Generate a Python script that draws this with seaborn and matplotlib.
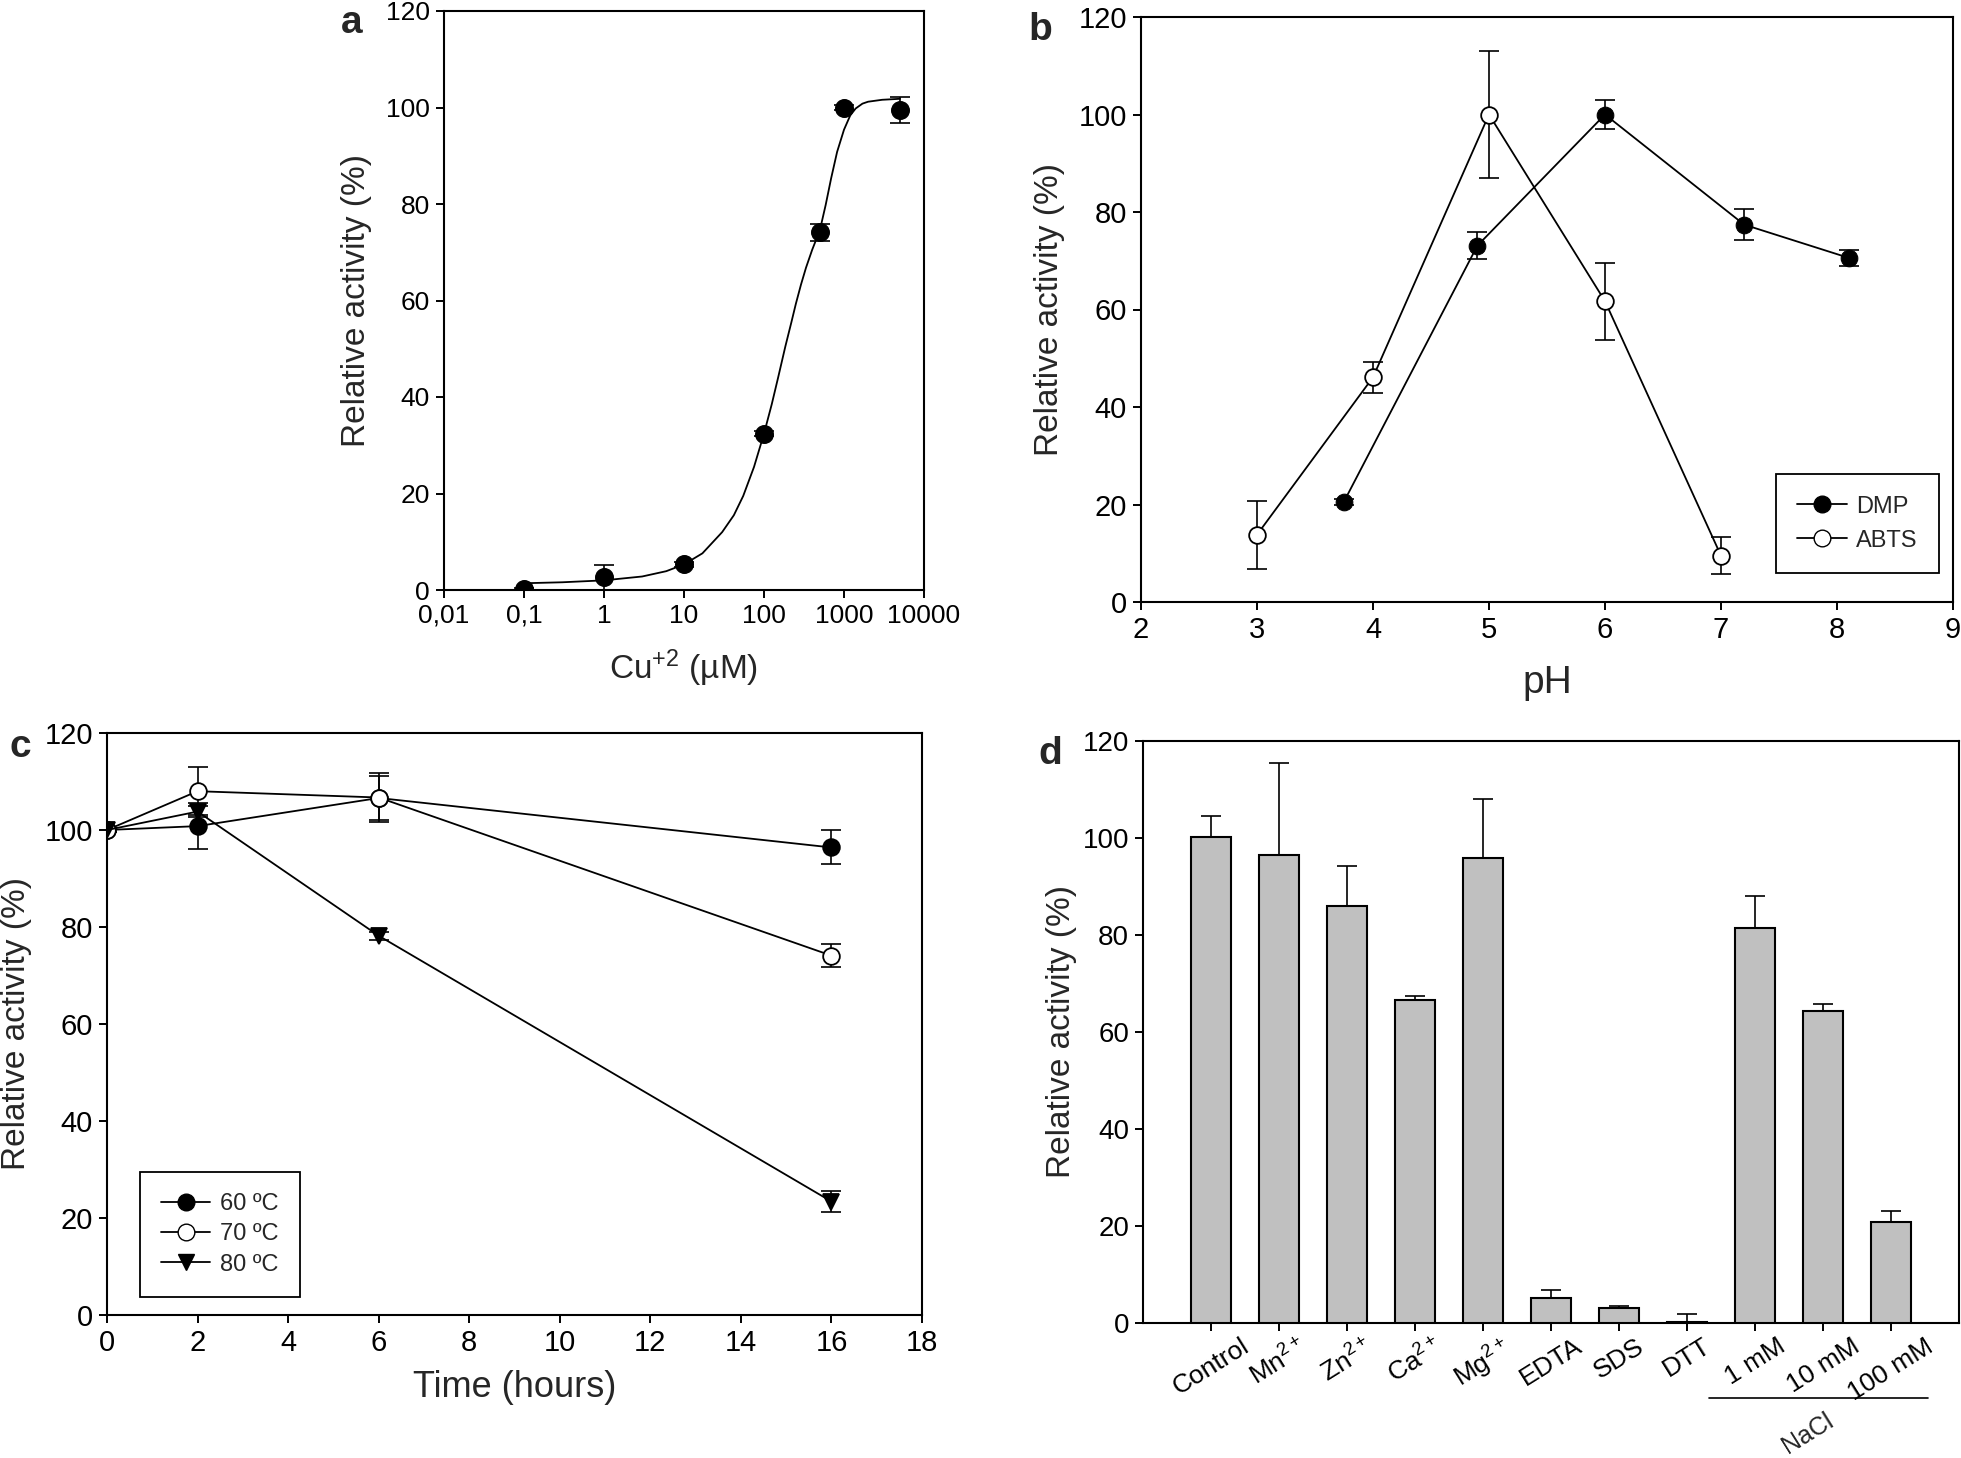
import numpy as np
import pandas as pd
import matplotlib
matplotlib.use("Agg")
import matplotlib.pyplot as plt
import seaborn as sns
from matplotlib.lines import Line2D
from matplotlib.ticker import NullLocator
from matplotlib import font_manager

# ---- a: Cu+2 dependence
cu_conc = [0.1, 1, 10, 100, 500, 1000, 5000]
cu_act = [0.2, 2.6, 5.3, 32.4, 74.1, 100.0, 99.4]
cu_err = [0.3, 2.5, 0.5, 0.5, 1.8, 0.5, 2.7]
# fitted curve
fit_x = [0.1, 0.3, 1, 3, 6, 10, 17, 30, 42, 55, 75, 100, 125, 150, 185, 220, 250, 290, 335,
         400, 500, 590, 690, 820, 1000, 1200, 1400, 1700, 2000, 3000, 5000]
fit_y = [1.4, 1.6, 2.0, 2.8, 3.9, 5.3, 7.6, 12.0, 15.5, 19.5, 25.5, 32.4, 38.5, 44.0, 50.5,
         55.5, 59.3, 63.3, 66.8, 70.5, 74.6, 79.8, 85.3, 90.8, 95.4, 98.4, 99.8, 100.8,
         101.2, 101.6, 101.8]
cu_ticks = [0.01, 0.1, 1, 10, 100, 1000, 10000]
cu_ticklabels = ["0,01", "0,1", "1", "10", "100", "1000", "10000"]

# ---- b: pH
dmp_ph = [3.75, 4.9, 6.0, 7.2, 8.1]
dmp_act = [20.6, 73.1, 100.0, 77.4, 70.6]
dmp_err = [0.6, 2.8, 3.0, 3.2, 1.6]
abts_ph = [3, 4, 5, 6, 7]
abts_act = [13.8, 46.1, 100.0, 61.7, 9.5]
abts_err = [7.0, 3.2, 13.0, 7.9, 3.8]

# ---- c: thermal stability
hours = [0, 2, 6, 16]
act_60 = [100.0, 100.8, 106.6, 96.4]
err_60 = [0.5, 4.7, 4.6, 3.5]
act_70 = [100.0, 108.0, 106.7, 74.1]
err_70 = [0.5, 4.9, 5.1, 2.4]
act_80 = [100.0, 103.8, 78.2, 23.4]
err_80 = [0.5, 1.1, 0.8, 2.2]

# ---- d: effectors
effectors = ["Control", "Mn$^{2+}$", "Zn$^{2+}$", "Ca$^{2+}$", "Mg$^{2+}$",
             "EDTA", "SDS", "DTT", "1 mM", "10 mM", "100 mM"]
eff_act = [100.2, 96.4, 86.0, 66.6, 95.8, 5.2, 3.1, 0.2, 81.5, 64.3, 20.8]
eff_err = [4.3, 19.0, 8.2, 0.8, 12.3, 1.6, 0.4, 1.6, 6.6, 1.5, 2.2]

sns.set_theme(style="ticks")
names = {f.name for f in font_manager.fontManager.ttflist}
narrow = "Liberation Sans Narrow" if "Liberation Sans Narrow" in names else "Liberation Sans"
plt.rcParams["font.family"] = ["Liberation Sans", "DejaVu Sans"]
plt.rcParams["mathtext.fontset"] = "custom"
plt.rcParams["mathtext.rm"] = "Liberation Sans"
plt.rcParams["mathtext.it"] = "Liberation Sans:italic"
plt.rcParams["axes.linewidth"] = 1.5
plt.rcParams["axes.edgecolor"] = "black"

W, H = 1961, 1458
fig = plt.figure(figsize=(W / 100, H / 100), dpi=100)


def px_axes(l, t, r, b):
    return fig.add_axes([l / W, 1 - b / H, (r - l) / W, (b - t) / H])


def style(ax, font, size=17):
    ax.tick_params(direction="out", length=6, width=1.4, labelsize=size,
                   top=False, right=False, colors="black", pad=4)
    for lab in ax.get_xticklabels() + ax.get_yticklabels():
        lab.set_family(font)
    for s in ax.spines.values():
        s.set_visible(True)
        s.set_color("black")
        s.set_linewidth(1.5)


ebar = dict(fmt="none", ecolor="black", elinewidth=1.2, capsize=7, capthick=1.2, zorder=2)
ylab = dict(fontsize=24, family="Liberation Sans")
legkw = dict(borderaxespad=0, fontsize=17, frameon=True, fancybox=False, edgecolor="black",
             framealpha=1, handlelength=2.1, borderpad=0.9, handletextpad=0.4)

# ---------------- a
ax = px_axes(444, 11, 924, 590)
ax.set_xscale("log")
ax.errorbar(cu_conc, cu_act, yerr=cu_err, **ebar)
sns.lineplot(x=fit_x, y=fit_y, color="black", linewidth=1.3, ax=ax, zorder=3)
sns.scatterplot(x=cu_conc, y=cu_act, s=160, color="black", edgecolor="black", ax=ax, zorder=4)
ax.set_xlim(0.01, 10000)
ax.set_ylim(0, 120)
ax.set_xticks(cu_ticks)
ax.set_xticklabels(cu_ticklabels)
ax.xaxis.set_minor_locator(NullLocator())
ax.set_yticks(range(0, 121, 20))
style(ax, "Liberation Sans", 19)
ax.set_ylabel("Relative activity (%)", **ylab)
ax.yaxis.set_label_coords(-0.15, 0.5)
ax.set_xlabel("Cu$^{+2}$ (µM)", fontsize=24)
ax.xaxis.set_label_coords(0.5, -0.1)

# ---------------- b
ax = px_axes(1141, 17, 1953, 602)
ax.errorbar(dmp_ph, dmp_act, yerr=dmp_err, **ebar)
ax.errorbar(abts_ph, abts_act, yerr=abts_err, **ebar)
sns.lineplot(x=dmp_ph, y=dmp_act, color="black", linewidth=1.3, marker="o", markersize=12,
             markerfacecolor="black", markeredgecolor="black", ax=ax, zorder=3)
sns.lineplot(x=abts_ph, y=abts_act, color="black", linewidth=1.3, marker="o", markersize=12,
             markerfacecolor="white", markeredgecolor="black", markeredgewidth=1.3, ax=ax, zorder=3)
ax.set_xlim(2, 9)
ax.set_ylim(0, 120)
ax.set_yticks(range(0, 121, 20))
style(ax, narrow, 21)
ax.set_ylabel("Relative activity (%)", **ylab)
ax.yaxis.set_label_coords(-0.094, 0.5)
ax.set_xlabel("pH", fontsize=28, family=narrow)
ax.xaxis.set_label_coords(0.5, -0.108)
handles = [Line2D([], [], color="black", lw=1.3, marker="o", markersize=12, markerfacecolor=fc,
                  markeredgecolor="black") for fc in ["black", "white"]]
leg = ax.legend(handles, ["DMP", "ABTS"], loc="lower right", bbox_to_anchor=(0.983, 0.05),
                labelspacing=0.5, **legkw)
leg.get_frame().set_linewidth(1.3)
for t in leg.get_texts():
    t.set_family(narrow)

# ---------------- c
ax = px_axes(107, 733, 922, 1315)
series_c = [(act_60, err_60, "o", "black", "60 ºC"),
            (act_70, err_70, "o", "white", "70 ºC"),
            (act_80, err_80, "v", "black", "80 ºC")]
handles = []
for act, err, mk, fc, lab in series_c:
    ax.errorbar(hours, act, yerr=err, **ebar)
    sns.lineplot(x=hours, y=act, color="black", linewidth=1.3, marker=mk, markersize=12,
                 markerfacecolor=fc, markeredgecolor="black", markeredgewidth=1.3, ax=ax, zorder=3)
    handles.append(Line2D([], [], color="black", lw=1.3, marker=mk, markersize=12,
                          markerfacecolor=fc, markeredgecolor="black"))
ax.set_xlim(0, 18)
ax.set_ylim(0, 120)
ax.set_xticks(range(0, 19, 2))
ax.set_yticks(range(0, 121, 20))
style(ax, narrow, 21)
ax.set_ylabel("Relative activity (%)", **ylab)
ax.yaxis.set_label_coords(-0.092, 0.5)
ax.set_xlabel("Time (hours)", fontsize=26, family=narrow)
ax.xaxis.set_label_coords(0.5, -0.094)
leg = ax.legend(handles, [s[4] for s in series_c], loc="lower left", bbox_to_anchor=(0.04, 0.031),
                labelspacing=0.35, **legkw)
leg.get_frame().set_linewidth(1.3)
for t in leg.get_texts():
    t.set_family(narrow)

# ---------------- d
ax = px_axes(1143, 741, 1959, 1323)
df_d = pd.DataFrame({"effector": effectors, "activity": eff_act, "err": eff_err})
sns.barplot(data=df_d, x="effector", y="activity", color="#c0c0c0", saturation=1,
            edgecolor="black", linewidth=1.5, width=0.6, errorbar=None, ax=ax, zorder=3)
pos = np.arange(len(effectors))
ax.errorbar(pos, eff_act, yerr=[np.zeros(len(effectors)), eff_err], **ebar)
ax.set_xlim(-1, len(effectors))
ax.set_ylim(0, 120)
ax.set_yticks(range(0, 121, 20))
style(ax, narrow, 20)
ax.set_xticks(pos)
ax.set_xticklabels(effectors, rotation=32, ha="center", fontsize=19, family="Liberation Sans")
ax.tick_params(axis="x", pad=2)
ax.set_ylabel("Relative activity (%)", **ylab)
ax.yaxis.set_label_coords(-0.081, 0.5)
ax.set_xlabel("")
trans = ax.get_xaxis_transform()
i1, i3 = effectors.index("1 mM"), effectors.index("100 mM")
ax.add_line(Line2D([i1 - 0.68, i3 + 0.54], [-0.129, -0.129], transform=trans, color="black",
                   lw=1.2, clip_on=False))
ax.text(i1 + 0.78, -0.19, "NaCl", transform=trans, rotation=32, ha="center", va="center",
        fontsize=18)

# panel letters
for lab, x, y in [("a", 352, 33), ("b", 1040, 40), ("c", 20, 757), ("d", 1050, 764)]:
    fig.text(x / W, 1 - y / H, lab, fontsize=28, fontweight="bold", ha="center", va="baseline")

fig.savefig("out.png", dpi=100)
